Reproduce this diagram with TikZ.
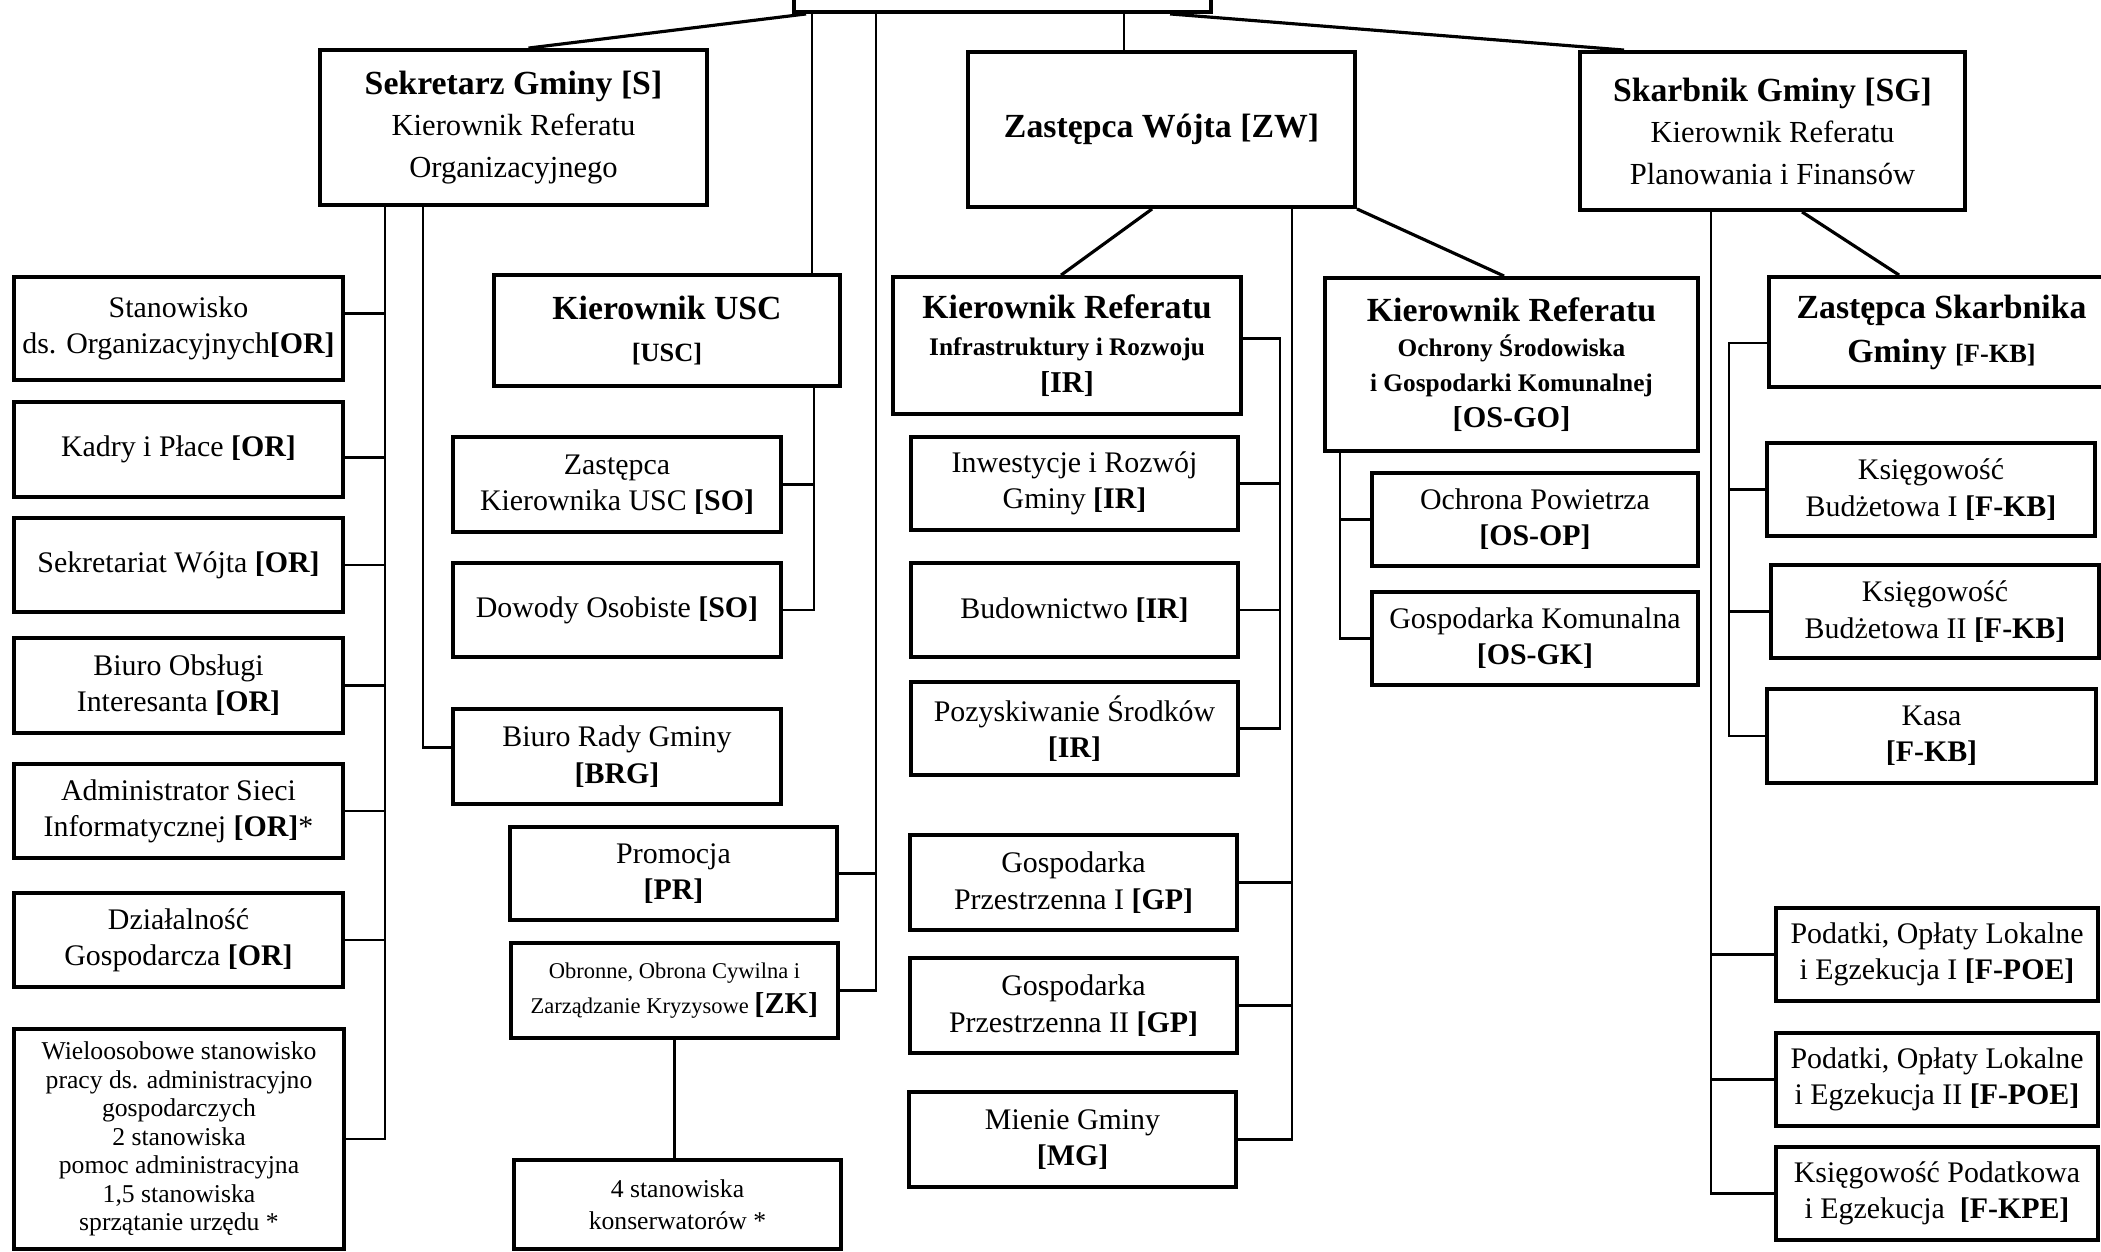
\documentclass[tikz,border=0pt]{standalone}
\usepackage{fontspec}
\setmainfont{Liberation Serif}
\usetikzlibrary{calc}
\tikzset{
  box/.style={draw, line width=1.1pt, align=center, inner sep=1pt, fill=white, font=\fontsize{8.5}{10.3}\selectfont},
  sz/.style 2 args={minimum width=#1*0.01cm, minimum height=#2*0.01cm},
  head/.style={box, font=\fontsize{8.7}{11.8}\selectfont},
  sub/.style={box, font=\fontsize{7.2}{10.3}\selectfont},
  conn/.style={line width=0.65pt},
  diag/.style={line width=0.9pt},
}
\newcommand{\hb}[1]{{\fontsize{9.6}{11.8}\selectfont\bfseries #1}}
\newcommand{\cb}[1]{{\fontsize{8.6}{10}\selectfont\bfseries #1}}
\newcommand{\sbx}[1]{{\fontsize{7.5}{9}\selectfont\bfseries #1}}
\begin{document}
\begin{tikzpicture}[x=0.01cm, y=-0.01cm]
\useasboundingbox (0,0) rectangle (2101,1251);

% ---------- top level ----------
\node[box, sz={417}{60}] (top) at (1002.5,-18) {};
\node[head, sz={387}{155}] (sek) at (513.5,127.5) {\hb{Sekretarz Gminy [S]}\\Kierownik Referatu\\Organizacyjnego};
\node[head, sz={387}{155}] (zw) at (1161.5,129.5) {\hb{Zastępca Wójta [ZW]}};
\node[head, sz={385}{158}] (sg) at (1772.5,131) {\hb{Skarbnik Gminy [SG]}\\Kierownik Referatu\\Planowania i Finansów};

% ---------- second level ----------
\node[box, font=\fontsize{8.6}{11.7}\selectfont, sz={346}{111}] (usc) at (667,330.5) {\hb{Kierownik USC}\\\sbx{[USC]}};
\node[sub, font=\fontsize{7.2}{10.5}\selectfont, sz={348}{137}] (ir) at (1067,345.5) {\hb{Kierownik Referatu}\\\textbf{Infrastruktury i Rozwoju}\\\cb{[IR]}};
\node[sub, font=\fontsize{7.2}{10}\selectfont, sz={373}{173}] (osgo) at (1511.5,364.5) {\hb{Kierownik Referatu}\\\textbf{Ochrony Środowiska}\\\textbf{i Gospodarki Komunalnej}\\\cb{[OS-GO]}};
\node[box, font=\fontsize{9.6}{12.5}\selectfont, sz={345}{110}] (zs) at (1941.5,332) {\hb{Zastępca Skarbnika}\\\hb{Gminy} \sbx{[F-KB]}};

% ---------- Sekretarz column ----------
\node[box, sz={329}{103}] (or1) at (178.5,328.5) {Stanowisko\\ds. Organizacyjnych\textbf{[OR]}};
\node[box, sz={329}{95}] (or2) at (178.5,449.5) {Kadry i Płace \textbf{[OR]}};
\node[box, sz={329}{94}] (or3) at (178.5,565) {Sekretariat Wójta \textbf{[OR]}};
\node[box, sz={329}{95}] (or4) at (178.5,685.5) {Biuro Obsługi\\Interesanta \textbf{[OR]}};
\node[box, sz={329}{94}] (or5) at (178.5,811) {Administrator Sieci\\Informatycznej \textbf{[OR]}*};
\node[box, sz={329}{94}] (or6) at (178.5,940) {Działalność\\Gospodarcza \textbf{[OR]}};
\node[box, font=\fontsize{7.3}{8.1}\selectfont, sz={330}{220}] (or7) at (179,1139) {Wieloosobowe stanowisko\\pracy ds. administracyjno\\gospodarczych\\2 stanowiska\\pomoc administracyjna\\1,5 stanowiska\\sprzątanie urzędu *};

% ---------- USC column ----------
\node[box, sz={328}{95}] (so1) at (617,484.5) {Zastępca\\Kierownika USC \textbf{[SO]}};
\node[box, sz={328}{94}] (so2) at (617,610) {Dowody Osobiste \textbf{[SO]}};
\node[box, sz={328}{95}] (brg) at (617,756.5) {Biuro Rady Gminy\\\textbf{[BRG]}};
\node[box, sz={327}{93}] (pr) at (673.5,873.5) {Promocja\\\textbf{[PR]}};
\node[box, font=\fontsize{6.4}{10}\selectfont, sz={327}{95}] (zk) at (674.5,990.5) {Obronne, Obrona Cywilna i\\Zarządzanie Kryzysowe \cb{[ZK]}};
\node[box, font=\fontsize{7.3}{9.2}\selectfont, sz={327}{89}] (kons) at (677.5,1204.5) {4 stanowiska\\konserwatorów *};

% ---------- ZW column ----------
\node[box, sz={327}{93}] (inw) at (1074.5,483.5) {Inwestycje i Rozwój\\Gminy \textbf{[IR]}};
\node[box, sz={327}{94}] (bud) at (1074.5,610) {Budownictwo \textbf{[IR]}};
\node[box, sz={327}{93}] (poz) at (1074.5,728.5) {Pozyskiwanie Środków\\\textbf{[IR]}};
\node[box, sz={327}{95}] (gp1) at (1073.5,882.5) {Gospodarka\\Przestrzenna I \textbf{[GP]}};
\node[box, sz={327}{95}] (gp2) at (1073.5,1005.5) {Gospodarka\\Przestrzenna II \textbf{[GP]}};
\node[box, sz={327}{95}] (mg) at (1072.5,1139.5) {Mienie Gminy\\\textbf{[MG]}};

\node[box, sz={326}{93}] (op) at (1535,519.5) {Ochrona Powietrza\\\textbf{[OS-OP]}};
\node[box, sz={326}{93}] (gk) at (1535,638.5) {Gospodarka Komunalna\\\textbf{[OS-GK]}};

% ---------- Skarbnik column ----------
\node[box, sz={328}{93}] (kb1) at (1931,489.5) {Księgowość\\Budżetowa I \textbf{[F-KB]}};
\node[box, sz={328}{93}] (kb2) at (1935,611.5) {Księgowość\\Budżetowa II \textbf{[F-KB]}};
\node[box, sz={329}{94}] (kasa) at (1931.5,736) {Kasa\\\textbf{[F-KB]}};
\node[box, sz={322}{93}] (poe1) at (1937,954.5) {Podatki, Opłaty Lokalne\\i Egzekucja I \textbf{[F-POE]}};
\node[box, sz={322}{93}] (poe2) at (1937,1079.5) {Podatki, Opłaty Lokalne\\i Egzekucja II \textbf{[F-POE]}};
\node[box, sz={322}{93}] (kpe) at (1937,1193.5) {Księgowość Podatkowa\\i Egzekucja~~\textbf{[F-KPE]}};

% ---------- connectors from the top box ----------
\coordinate (tS) at ($(top.south west)+(14,0)$);
\coordinate (tA) at ($(top.south west)+(20,0)$);
\coordinate (tB) at ($(top.south west)+(84,0)$);
\coordinate (tC) at ($(top.south west)+(332,0)$);
\coordinate (tD) at ($(top.south west)+(378,0)$);
\draw[diag] (tS) -- ($(sek.north)+(15,0)$);
\draw[conn] (tA) -- (tA |- usc.north);
\draw[conn] (tB) |- (zk.east);
\draw[conn] (pr.east) -- (pr.east -| tB);
\draw[conn] (tC) -- (tC |- zw.north);
\draw[diag] (tD) -- ($(sg.north west)+(46,0)$);

% ---------- Sekretarz ----------
\coordinate (sA) at ($(sek.south west)+(67,0)$);
\coordinate (sB) at ($(sek.south west)+(105,0)$);
\coordinate (or1c) at ($(or1.east)+(0,-15)$);
\coordinate (or2c) at ($(or2.east)+(0,8)$);
\draw[conn] (sA) |- (or7.east);
\draw[conn] (or1c) -- (or1c -| sA);
\draw[conn] (or2c) -- (or2c -| sA);
\foreach \n in {or3,or4,or5,or6}{\draw[conn] (\n.east) -- (\n.east -| sA);}
\draw[conn] (sB) |- ($(brg.west)+(0,-9)$);

% ---------- USC ----------
\coordinate (uA) at ($(usc.south east)+(-28,0)$);
\draw[conn] (uA) |- (so2.east);
\draw[conn] (so1.east) -- (so1.east -| uA);
\draw[conn] (zk.south) -- (zk.south |- kons.north);

% ---------- Zastepca Wojta ----------
\draw[diag] ($(zw.south west)+(186,0)$) -- ($(ir.north west)+(170,0)$);
\draw[diag] (zw.south east) -- ($(osgo.north west)+(181,0)$);
\coordinate (wA) at ($(zw.south west)+(326,0)$);
\draw[conn] (wA) |- (mg.east);
\draw[conn] (gp1.east) -- (gp1.east -| wA);
\draw[conn] (gp2.east) -- (gp2.east -| wA);

% ---------- IR ----------
\coordinate (iE) at ($(ir.east)+(0,-7)$);
\coordinate (iA) at ($(iE)+(37,0)$);
\draw[conn] (iE) -- (iA) |- (poz.east);
\draw[conn] (inw.east) -- (inw.east -| iA);
\draw[conn] (bud.east) -- (bud.east -| iA);

% ---------- OS-GO ----------
\coordinate (oA) at ($(osgo.south west)+(17,0)$);
\draw[conn] (oA) |- (gk.west);
\draw[conn] (op.west) -- (op.west -| oA);

% ---------- Skarbnik ----------
\draw[diag] ($(sg.south west)+(224,0)$) -- ($(zs.north west)+(132,0)$);
\coordinate (gA) at ($(sg.south west)+(133,0)$);
\draw[conn] (gA) |- (kpe.west);
\draw[conn] (poe1.west) -- (poe1.west -| gA);
\draw[conn] (poe2.west) -- (poe2.west -| gA);

% ---------- Zastepca Skarbnika ----------
\coordinate (zE) at ($(zs.west)+(0,11)$);
\coordinate (zA) at ($(zE)+(-38,0)$);
\draw[conn] (zE) -- (zA) |- (kasa.west);
\draw[conn] (kb1.west) -- (kb1.west -| zA);
\draw[conn] (kb2.west) -- (kb2.west -| zA);
\end{tikzpicture}
\end{document}
